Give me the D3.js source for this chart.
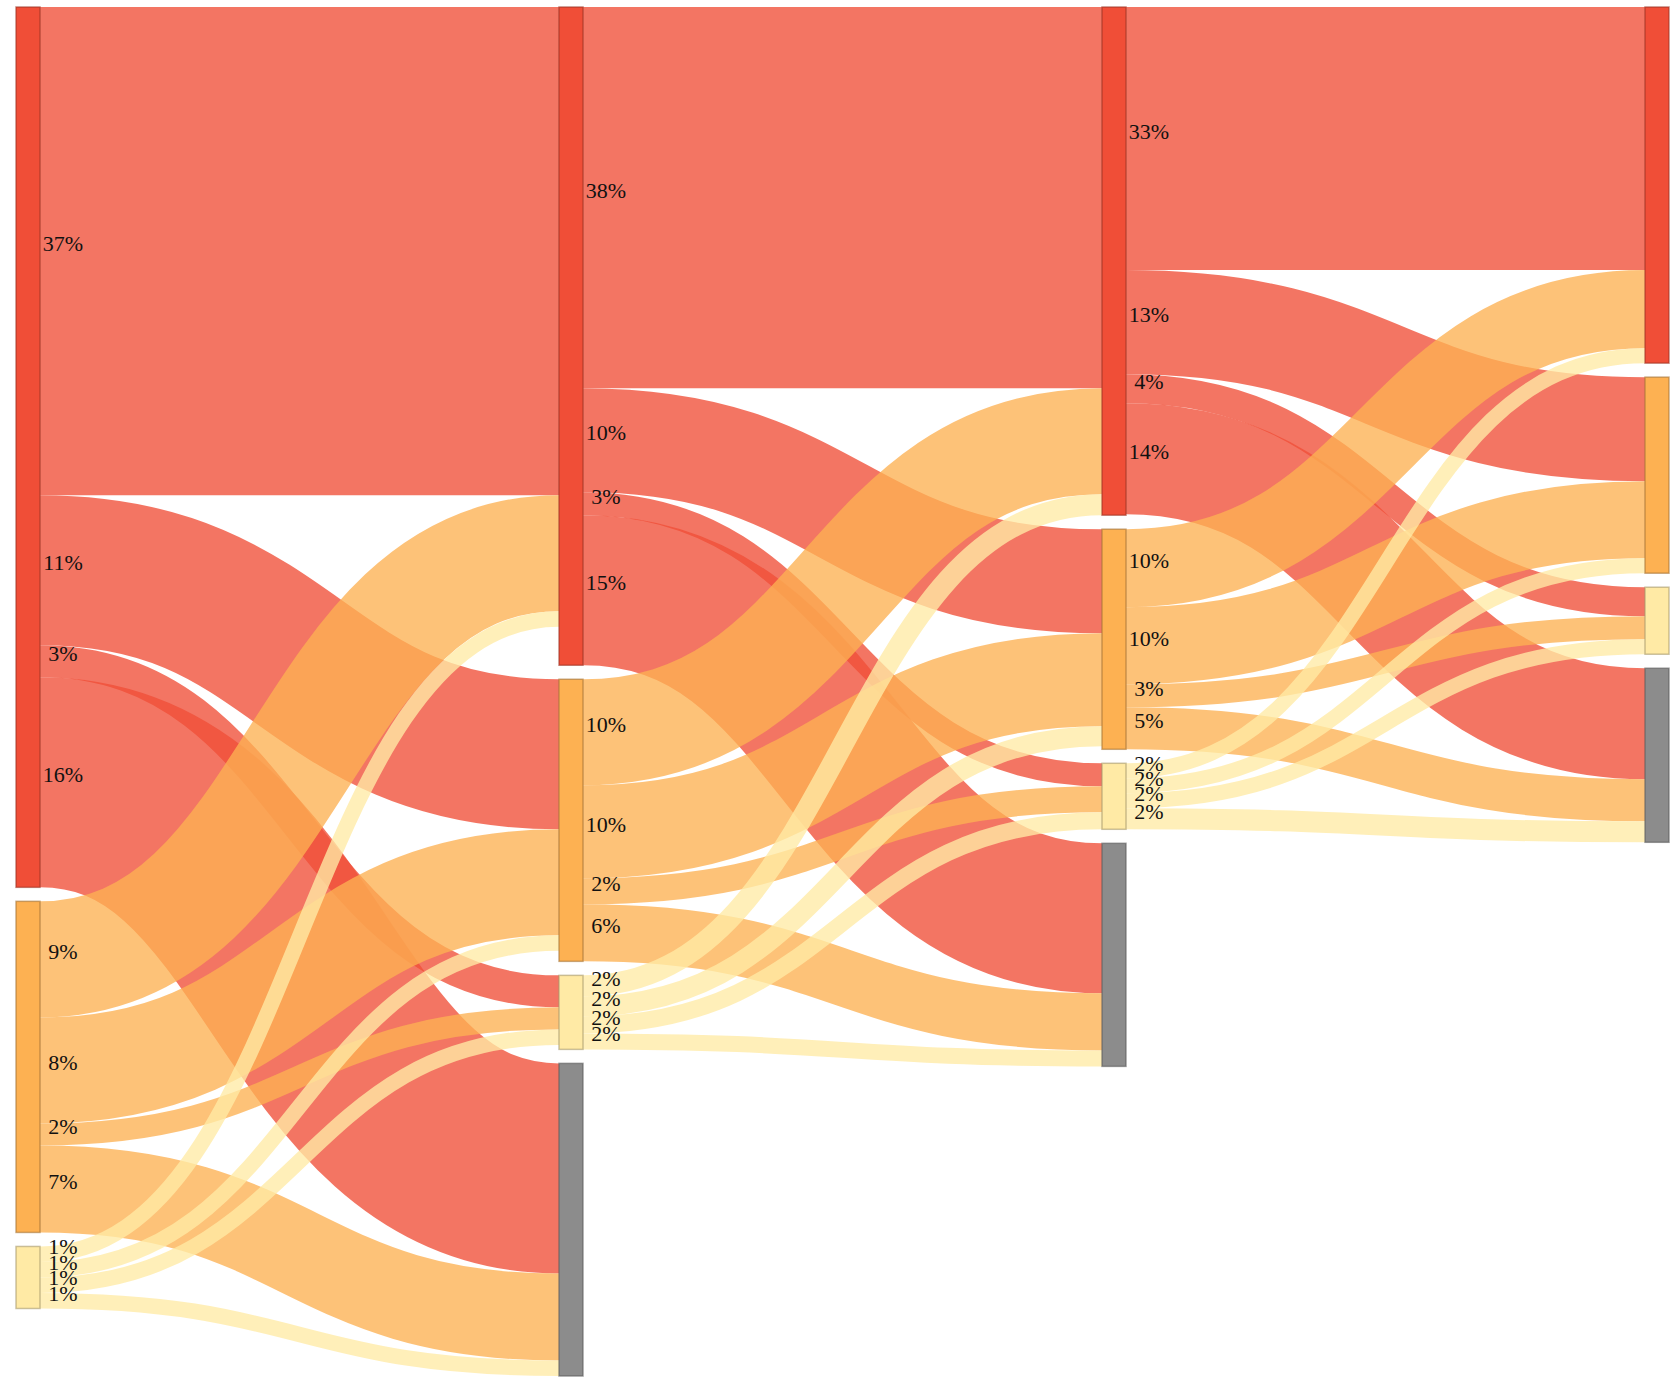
<!DOCTYPE html>
<html>
<head>
<meta charset="utf-8">
<script src="https://cdn.jsdelivr.net/npm/d3@7"></script>
<style>
  html, body { margin: 0; padding: 0; background: #fff; }
  svg { display: block; }
</style>
</head>
<body>
<svg id="chart" width="1673" height="1377"></svg>
<script>
// ---- data ----
const stageCount = 4;
const levels = ["high", "mid", "low", "out"];
const levelColors = ["#f04e37", "#fdb152", "#ffeaa5", "#8c8c8c"];

// flows between consecutive stages
const flowStage = [0,0,0,0, 0,0,0,0, 0,0,0,0,
                   1,1,1,1, 1,1,1,1, 1,1,1,1,
                   2,2,2,2, 2,2,2,2, 2,2,2,2];
const flowFrom  = ["high","high","high","high","mid","mid","mid","mid","low","low","low","low",
                   "high","high","high","high","mid","mid","mid","mid","low","low","low","low",
                   "high","high","high","high","mid","mid","mid","mid","low","low","low","low"];
const flowTo    = ["high","mid","low","out","high","mid","low","out","high","mid","low","out",
                   "high","mid","low","out","high","mid","low","out","high","mid","low","out",
                   "high","mid","low","out","high","mid","low","out","high","mid","low","out"];
const flowValue = [488,150,32,210, 116,106,22,87, 15.5,15.5,15.5,15.5,
                   381,104,23,150, 106,93,26,57, 21,20,17,16,
                   263,104,29,111, 78,77,23,42, 15,15,15,21];
const flowLabel = ["37%","11%","3%","16%","9%","8%","2%","7%","1%","1%","1%","1%",
                   "38%","10%","3%","15%","10%","10%","2%","6%","2%","2%","2%","2%",
                   "33%","13%","4%","14%","10%","10%","3%","5%","2%","2%","2%","2%"];

// ---- layout ----
const ext = {x0: 16, y0: 7, x1: 1669, y1: 1376};
const nodeWidth = 24, nodePadding = 14;

const nodeMap = new Map();
function getNode(stage, level) {
  const id = stage + ":" + level;
  if (!nodeMap.has(id)) nodeMap.set(id, {id, stage, level, li: levels.indexOf(level), sourceLinks: [], targetLinks: []});
  return nodeMap.get(id);
}
const links = flowValue.map((v, i) => {
  const s = getNode(flowStage[i], flowFrom[i]);
  const t = getNode(flowStage[i] + 1, flowTo[i]);
  const l = {source: s, target: t, value: v, label: flowLabel[i]};
  s.sourceLinks.push(l); t.targetLinks.push(l);
  return l;
});
const nodes = Array.from(nodeMap.values());
nodes.forEach(n => {
  n.value = Math.max(d3.sum(n.sourceLinks, l => l.value), d3.sum(n.targetLinks, l => l.value));
});
const columns = d3.range(stageCount).map(s => nodes.filter(n => n.stage === s).sort((a, b) => a.li - b.li));

const k = d3.min(columns, col => (ext.y1 - ext.y0 - (col.length - 1) * nodePadding) / d3.sum(col, n => n.value));
const h = d3.scaleLinear().domain([0, 1]).range([0, k]);
const x = d3.scaleLinear().domain([0, stageCount - 1]).range([ext.x0, ext.x1 - nodeWidth]);

columns.forEach(col => {
  let y = ext.y0;
  col.forEach(n => {
    n.x0 = x(n.stage); n.x1 = n.x0 + nodeWidth;
    n.y0 = y; n.y1 = y + h(n.value);
    y = n.y1 + nodePadding;
  });
});
links.forEach(l => l.width = h(l.value));
nodes.forEach(n => {
  n.sourceLinks.sort((a, b) => a.target.li - b.target.li);
  n.targetLinks.sort((a, b) => a.source.li - b.source.li);
  let y = n.y0;
  n.sourceLinks.forEach(l => { l.y0 = y + l.width / 2; y += l.width; });
  y = n.y0;
  n.targetLinks.forEach(l => { l.y1 = y + l.width / 2; y += l.width; });
});

// ---- draw ----
const svg = d3.select("#chart");
const color = lvl => levelColors[levels.indexOf(lvl)];
const linkPath = d3.linkHorizontal()
  .source(d => [d.source.x1, d.y0])
  .target(d => [d.target.x0, d.y1]);

svg.append("g")
  .attr("fill", "none")
  .selectAll("path")
  .data(links)
  .join("path")
  .attr("d", linkPath)
  .attr("stroke", d => color(d.source.level))
  .attr("stroke-opacity", 0.78)
  .attr("stroke-width", d => Math.max(1, d.width));

svg.append("g")
  .selectAll("rect")
  .data(nodes)
  .join("rect")
  .attr("x", d => d.x0)
  .attr("y", d => d.y0)
  .attr("width", d => d.x1 - d.x0)
  .attr("height", d => d.y1 - d.y0)
  .attr("fill", d => color(d.level))
  .attr("stroke", d => d3.rgb(color(d.level)).darker(1.2))
  .attr("stroke-opacity", 0.6)
  .attr("stroke-width", 1.5);

svg.append("g")
  .attr("font-family", "'Liberation Serif', 'DejaVu Serif', serif")
  .attr("font-size", 22)
  .attr("fill", "#111")
  .attr("text-anchor", "middle")
  .selectAll("text")
  .data(links)
  .join("text")
  .attr("x", d => d.source.x1 + 23)
  .attr("y", d => d.y0)
  .text(d => d.label);
</script>
</body>
</html>
